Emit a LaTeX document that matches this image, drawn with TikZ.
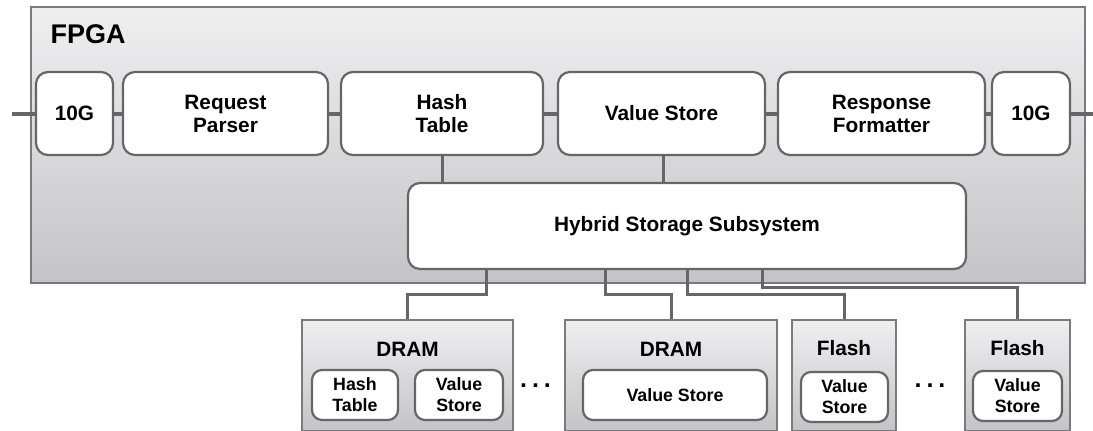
\documentclass[tikz,border=0pt]{standalone}
\usepackage{fontspec}
\setmainfont{Liberation Sans}
\definecolor{edge}{HTML}{666666}
\definecolor{frame}{HTML}{7A7A7C}
\definecolor{shadetop}{HTML}{EFEFF0}
\definecolor{shadebot}{HTML}{C4C4C8}
\begin{document}
\begin{tikzpicture}[x=1pt,y=-1pt,
  lbl/.style={font=\bfseries\fontsize{20.8}{23}\selectfont, align=center},
  small/.style={font=\bfseries\fontsize{17.8}{21}\selectfont, align=center},
  unit/.style={lbl, draw=edge, line width=2.2pt, fill=white, rounded corners=12pt,
    inner sep=0pt, minimum height=83pt},
  cell/.style={small, draw=edge, line width=2.2pt, fill=white, rounded corners=10pt,
    inner sep=0pt, minimum height=50pt},
  chip/.style={draw=frame, line width=1.8pt, top color=shadetop, bottom color=shadebot,
    inner sep=0pt, minimum height=111pt},
  wire/.style={draw=edge, line width=3pt},
  bus/.style={draw=edge, line width=4pt},
  ellip/.style={font=\bfseries\fontsize{25}{25}\selectfont},
]
\useasboundingbox (0,0) rectangle (1093,431);

% FPGA enclosure
\node[draw=frame, line width=1.8pt, top color=shadetop, bottom color=shadebot,
  minimum width=1054pt, minimum height=276pt, inner sep=0pt] (fpga) at (558,145) {};
\node[font=\bfseries\fontsize{27}{30}\selectfont, anchor=base west] (fpgalbl) at (47,43) {FPGA};

% pipeline
\coordinate (inL) at (12,113.5);
\coordinate (outR) at (1093,113.5);
\node[unit, minimum width=77pt]  (tenL) at (74.5,113.5) {10G};
\node[unit, minimum width=205pt] (req)  at (225.5,113.5) {Request\\Parser};
\node[unit, minimum width=202pt] (hash) at (442,113.5) {Hash\\Table};
\node[unit, minimum width=207pt] (val)  at (661.5,113.5) {Value Store};
\node[unit, minimum width=207pt] (resp) at (881.5,113.5) {Response\\Formatter};
\node[unit, minimum width=78pt]  (tenR) at (1031,113.5) {10G};

\draw[bus] (inL) -- (tenL.west);
\draw[bus] (tenL) -- (req);
\draw[bus] (req) -- (hash);
\draw[bus] (hash) -- (val);
\draw[bus] (val) -- (resp);
\draw[bus] (resp) -- (tenR);
\draw[bus] (tenR.east) -- (outR);

% storage subsystem
\node[unit, minimum width=558pt, minimum height=86pt] (hyb) at (687,226) {Hybrid Storage Subsystem};
\draw[wire] (hash.south) -- (hash.south |- hyb.north);
\draw[wire] ([xshift=1.5pt]val.south) -- ([xshift=1.5pt]val.south |- hyb.north);

% memory devices
\node[chip, minimum width=211pt] (d1) at (407.5,375.5) {};
\node[chip, minimum width=212pt] (d2) at (671,375.5) {};
\node[chip, minimum width=104pt] (f1) at (844,375.5) {};
\node[chip, minimum width=105pt] (f2) at (1017.5,375.5) {};

\node[lbl] (d1t) at (407.5,349) {DRAM};
\node[lbl] (d2t) at (671,349) {DRAM};
\node[lbl] (f1t) at (844,348) {Flash};
\node[lbl] (f2t) at (1017.5,348) {Flash};

\node[cell, minimum width=86pt]  (d1h) at (355,395) {Hash\\Table};
\node[cell, minimum width=88pt]  (d1v) at (459,395) {Value\\Store};
\node[cell, minimum width=184pt] (d2v) at (675,395) {Value Store};
\node[cell, minimum width=87pt]  (f1v) at (844.5,397) {Value\\Store};
\node[cell, minimum width=89pt]  (f2v) at (1017.5,396) {Value\\Store};

\node[ellip] (dots1) at (535.5,386) {.\hspace{0.2em}.\hspace{0.2em}.};
\node[ellip] (dots2) at (930,386) {.\hspace{0.2em}.\hspace{0.2em}.};

% channels from the storage subsystem
\coordinate (t1) at ([xshift=-201pt]hyb.south);
\coordinate (t2) at ([xshift=-82pt]hyb.south);
\coordinate (t3) at (hyb.south);
\coordinate (t4) at ([xshift=75pt]hyb.south);
\draw[wire] (t1) -- ++(0,24) -| (d1.north);
\draw[wire] (t2) -- ++(0,24) -| (d2.north);
\draw[wire] (t3) -- ++(0,24) -| (f1.north);
\draw[wire] (t4) -- ++(0,17) -| (f2.north);
\end{tikzpicture}
\end{document}
